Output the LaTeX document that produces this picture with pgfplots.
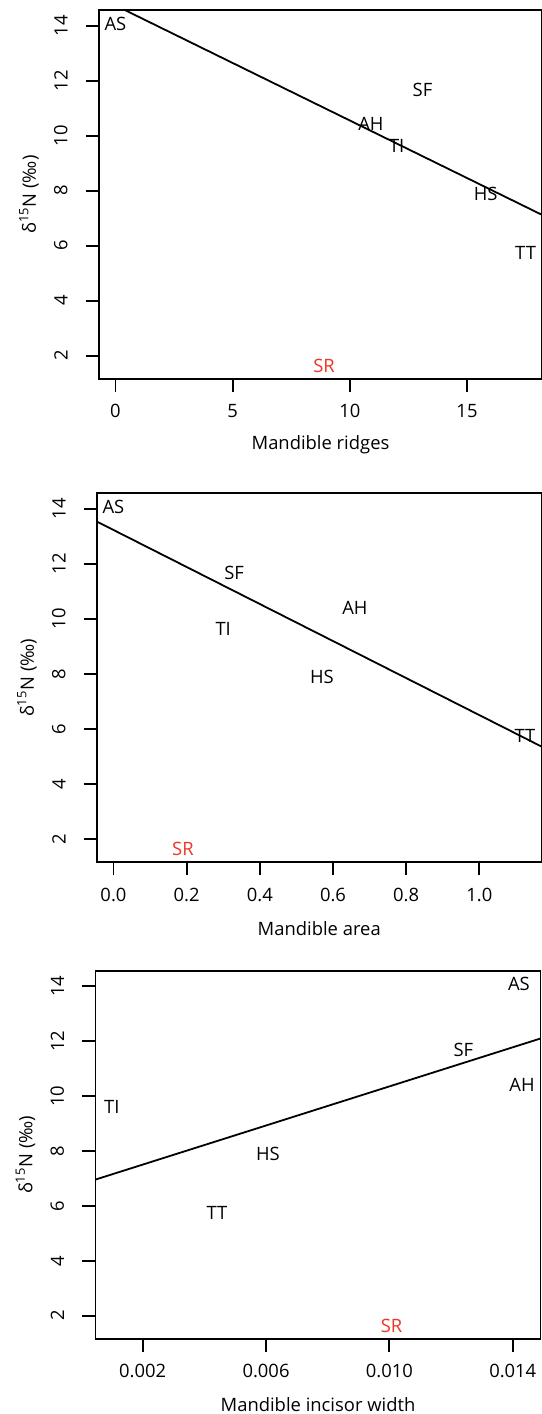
\documentclass[border=0pt]{standalone}
\usepackage{pgfplots}
\pgfplotsset{compat=1.18}
\usepackage{fontspec}
\setmainfont{Open Sans}
\definecolor{srred}{RGB}{238,52,35}
\begin{document}
\begin{tikzpicture}[font=\fontsize{9.2bp}{11bp}\selectfont]
\useasboundingbox (0,0) rectangle (271bp,-707bp);
\pgfplotsset{
  rplot/.style={
    scale only axis,
    anchor=north west,
    axis line style={line width=0.9bp},
    every tick/.style={line width=0.9bp, black},
    tick align=outside,
    major tick length=6.5bp,
    xtick pos=bottom, ytick pos=left,
    ymin=1.15, ymax=14.57,
    ytick={2,4,...,14},
    yticklabels={2,4,6,8,10,12,14},
    yticklabel style={rotate=90, anchor=south, inner sep=0pt},
    xticklabel style={anchor=north, inner sep=0pt},
    xticklabel shift=6bp,
    yticklabel shift=9bp,
    ylabel={δ\textsuperscript{15}N (‰)},
    ylabel style={at={(axis description cs:0,0.5)}, anchor=center, yshift=35bp},
    xlabel style={at={(axis description cs:0.5,0)}, anchor=center, yshift=-33bp},
    clip=true,
  },
  lab/.style={draw=none, mark=none, nodes near coords, nodes near coords align=center,
    point meta=explicit symbolic,
    every node near coord/.append style={anchor=center, inner sep=0pt, text=black}},
  labr/.style={draw=none, mark=none, nodes near coords, nodes near coords align=center,
    point meta=explicit symbolic,
    every node near coord/.append style={anchor=center, inner sep=0pt, text=srred}},
}
% Panel 1
\begin{axis}[rplot, at={(49.5bp,-5bp)}, width=221.5bp, height=184.5bp,
  xmin=-0.7, xmax=18.2, xtick={0,5,10,15}, xticklabels={0,5,10,15},
  xlabel={Mandible ridges}]
\addplot[lab] table[x=x,y=y,meta=label] {
x y label
0 14.08 AS
13.1 11.68 SF
10.9 10.42 AH
12.0 9.62 TI
15.8 7.88 HS
17.5 5.74 TT
};
\addplot[labr] table[x=x,y=y,meta=label] {
x y label
8.9 1.62 SR
};
\addplot[black, line width=0.9bp] coordinates {(-0.7,15.03) (18.2,7.12)};
\end{axis}
% Panel 2
\begin{axis}[rplot, at={(48.5bp,-246.65bp)}, width=222.25bp, height=184.5bp,
  xmin=-0.045, xmax=1.17, xtick={0,0.2,0.4,0.6,0.8,1.0},
  xticklabels={0.0,0.2,0.4,0.6,0.8,1.0},
  xlabel={Mandible area}]
\addplot[lab] table[x=x,y=y,meta=label] {
x y label
0.0 14.08 AS
0.33 11.68 SF
0.66 10.42 AH
0.30 9.62 TI
0.57 7.88 HS
1.125 5.74 TT
};
\addplot[labr] table[x=x,y=y,meta=label] {
x y label
0.19 1.62 SR
};
\addplot[black, line width=0.9bp] coordinates {(-0.045,13.54) (1.17,5.36)};
\end{axis}
% Panel 3
\begin{axis}[rplot, at={(47.75bp,-485.35bp)}, width=222.5bp, height=184.15bp,
  xmin=0.00047, xmax=0.0149, xtick={0.002,0.006,0.010,0.014},
  xticklabels={0.002,0.006,0.010,0.014},
  scaled x ticks=false,
  xlabel={Mandible incisor width}]
\addplot[lab] table[x=x,y=y,meta=label] {
x y label
0.0142 14.08 AS
0.0124 11.68 SF
0.0143 10.42 AH
0.001 9.62 TI
0.00606 7.88 HS
0.00441 5.74 TT
};
\addplot[labr] table[x=x,y=y,meta=label] {
x y label
0.01007 1.62 SR
};
\addplot[black, line width=0.9bp] coordinates {(0.00047,6.96) (0.0149,12.10)};
\end{axis}
\end{tikzpicture}
\end{document}
